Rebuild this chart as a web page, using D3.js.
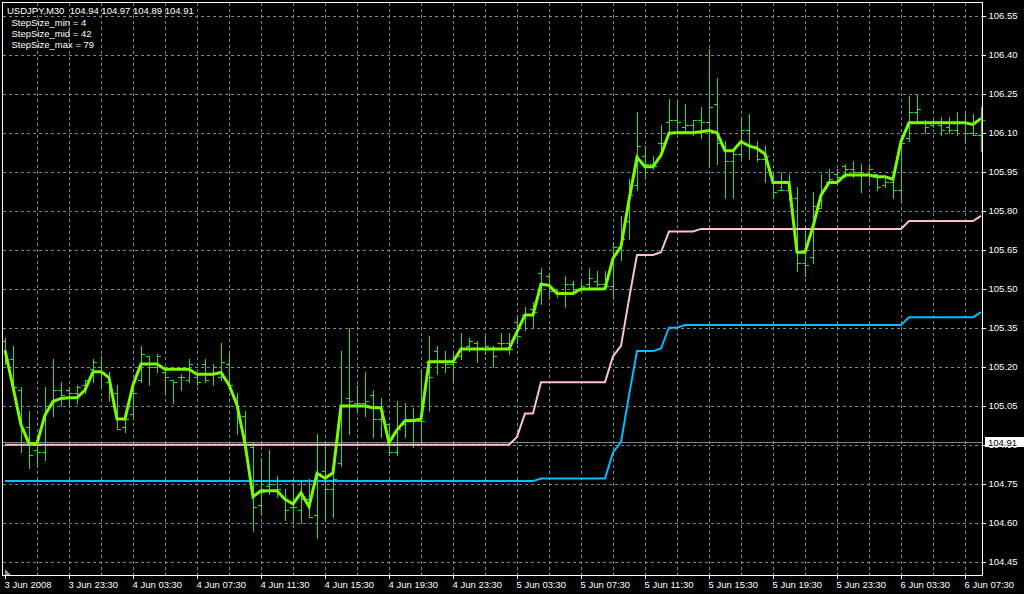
<!DOCTYPE html>
<html><head><meta charset="utf-8">
<script src="https://cdn.jsdelivr.net/npm/d3@7"></script>
<style>
html,body{margin:0;padding:0;background:#000;}
svg{display:block;}
text{font-family:"Liberation Sans",Arial,sans-serif;font-size:9.5px;}
</style></head><body>
<svg id="chart" width="1024" height="594"></svg>
<script>
// ---------- DATA ----------
const title = "USDJPY,M30  104.94 104.97 104.89 104.91";
const infoLines = ["StepSize_min = 4", "StepSize_mid = 42", "StepSize_max = 79"];
const bidPrice = 104.91;
const priceTicks = [106.55,106.40,106.25,106.10,105.95,105.80,105.65,105.50,105.35,105.20,105.05,104.90,104.75,104.60,104.45];
const timeTickIdx = [0,8,16,24,32,40,48,56,64,72,80,88,96,104,112,120];
const timeTickLabels = ["3 Jun 2008","3 Jun 23:30","4 Jun 03:30","4 Jun 07:30","4 Jun 11:30","4 Jun 15:30","4 Jun 19:30","4 Jun 23:30","5 Jun 03:30","5 Jun 07:30","5 Jun 11:30","5 Jun 15:30","5 Jun 19:30","5 Jun 23:30","6 Jun 03:30","6 Jun 07:30"];

const high = [105.31,105.28,105.12,105.03,104.91,105.12,105.23,105.14,105.12,105.13,
105.15,105.23,105.24,105.18,105.13,105.02,105.13,105.28,105.24,105.25,
105.18,105.15,105.17,105.23,105.17,105.23,105.21,105.29,105.25,105.10,
105.03,104.91,104.85,104.88,104.78,104.73,104.75,104.76,104.77,104.94,
104.91,104.84,105.26,105.35,105.13,105.18,105.11,105.08,104.98,105.07,
105.06,105.04,105.19,105.32,105.28,105.26,105.25,105.33,105.31,105.30,
105.32,105.28,105.33,105.33,105.40,105.43,105.45,105.58,105.56,105.50,
105.55,105.53,105.53,105.58,105.57,105.57,105.68,105.78,105.92,106.18,
106.05,106.01,106.13,106.23,106.22,106.21,106.15,106.20,106.42,106.31,
106.07,106.03,106.16,106.17,106.07,106.05,105.94,105.95,105.94,105.89,
105.74,105.87,105.94,105.96,105.96,105.98,105.99,105.98,105.98,105.94,
105.93,105.93,106.07,106.24,106.25,106.15,106.15,106.16,106.16,106.18,
106.17,106.17,106.20];
const low = [105.21,105.10,104.87,104.81,104.82,104.84,105.01,105.05,105.05,105.06,
105.10,105.14,105.12,105.07,104.96,104.95,105.00,105.14,105.13,105.18,
105.10,105.06,105.11,105.14,105.13,105.14,105.13,105.15,105.13,104.94,
104.87,104.57,104.63,104.71,104.70,104.61,104.60,104.60,104.62,104.54,
104.61,104.62,104.82,104.94,105.03,105.01,104.93,104.93,104.86,104.86,
104.93,104.89,104.91,105.03,105.17,105.18,105.14,105.23,105.26,105.22,
105.25,105.20,105.28,105.25,105.29,105.34,105.35,105.44,105.46,105.47,
105.43,105.48,105.49,105.50,105.51,105.50,105.46,105.61,105.69,105.88,
105.93,105.96,106.01,106.09,106.10,106.10,106.09,106.08,105.97,105.98,
105.85,105.85,106.00,106.00,105.99,105.91,105.85,105.88,105.84,105.57,
105.55,105.60,105.81,105.91,105.91,105.93,105.93,105.87,105.91,105.88,
105.89,105.85,105.83,106.07,106.14,106.10,106.12,106.09,106.10,106.09,
106.06,106.09,106.03];
const open = [105.30,105.23,105.11,104.97,104.88,104.87,105.05,105.11,105.11,105.10,
105.13,105.19,105.20,105.14,105.10,104.97,105.02,105.15,105.24,105.20,
105.18,105.15,105.16,105.15,105.16,105.21,105.17,105.16,105.21,105.08,
105.01,104.89,104.67,104.74,104.76,104.70,104.66,104.65,104.69,104.63,
104.80,104.73,104.83,105.08,105.06,105.06,105.09,105.00,104.98,104.87,
104.98,105.00,104.99,105.22,105.26,105.22,105.21,105.24,105.28,105.29,
105.27,105.27,105.29,105.29,105.37,105.40,105.42,105.56,105.55,105.49,
105.48,105.52,105.50,105.52,105.53,105.52,105.51,105.66,105.76,105.90,
106.01,105.98,106.06,106.14,106.15,106.12,106.13,106.15,106.14,106.21,
106.05,105.99,106.02,106.11,106.05,106.00,105.93,105.88,105.88,105.85,
105.60,105.62,105.81,105.91,105.94,105.97,105.96,105.95,105.94,105.94,
105.90,105.91,105.88,106.08,106.18,106.14,106.13,106.13,106.12,106.11,
106.14,106.10,106.09];
const close = [105.23,105.12,104.96,104.86,104.87,105.05,105.11,105.09,105.10,105.12,
105.15,105.22,105.18,105.10,104.96,105.00,105.10,105.25,105.20,105.24,
105.16,105.14,105.16,105.21,105.14,105.15,105.20,105.22,105.13,105.01,
104.91,104.66,104.72,104.75,104.73,104.65,104.66,104.69,104.62,104.79,
104.73,104.77,105.05,105.07,105.06,105.07,105.00,105.03,104.87,104.96,
105.00,104.99,104.99,105.16,105.22,105.21,105.22,105.27,105.30,105.27,
105.28,105.24,105.29,105.27,105.32,105.40,105.41,105.52,105.49,105.48,
105.52,105.50,105.51,105.54,105.52,105.51,105.66,105.69,105.86,106.05,
105.98,105.97,106.06,106.15,106.14,106.13,106.15,106.14,106.20,106.06,
105.99,106.02,106.11,106.05,106.00,106.01,105.87,105.88,105.85,105.60,
105.59,105.82,105.88,105.92,105.93,105.96,105.95,105.94,105.96,105.89,
105.91,105.88,106.06,106.18,106.19,106.12,106.14,106.11,106.11,106.14,
106.10,106.09,106.15];
// StepMA with StepSize_min (fast, green)
const stepMin = [105.264,105.122,104.976,104.905,104.905,105.014,105.066,105.078,105.081,105.081,
105.110,105.181,105.181,105.158,104.999,104.999,105.130,105.210,105.210,105.210,
105.190,105.190,105.190,105.190,105.171,105.171,105.171,105.178,105.130,105.053,
104.905,104.700,104.723,104.723,104.723,104.690,104.672,104.715,104.662,104.790,
104.771,104.792,105.049,105.049,105.049,105.049,105.042,105.042,104.908,104.957,
104.992,104.992,104.999,105.219,105.219,105.219,105.219,105.268,105.268,105.268,
105.268,105.268,105.268,105.268,105.334,105.399,105.399,105.517,105.513,105.482,
105.482,105.482,105.499,105.499,105.499,105.500,105.617,105.662,105.841,106.005,
105.969,105.969,106.014,106.098,106.100,106.100,106.100,106.104,106.108,106.100,
106.031,106.031,106.066,106.049,106.040,106.018,105.908,105.908,105.908,105.640,
105.640,105.739,105.860,105.908,105.908,105.937,105.937,105.937,105.937,105.931,
105.931,105.921,106.066,106.138,106.138,106.138,106.138,106.138,106.138,106.138,
106.138,106.132,106.155];
// StepSize_mid (pink)
const stepMid = [104.90,104.90,104.90,104.90,104.90,104.90,104.90,104.90,104.90,104.90,
104.90,104.90,104.90,104.90,104.90,104.90,104.90,104.90,104.90,104.90,
104.90,104.90,104.90,104.90,104.90,104.90,104.90,104.90,104.90,104.90,
104.90,104.90,104.90,104.90,104.90,104.90,104.90,104.90,104.90,104.90,
104.90,104.90,104.90,104.90,104.90,104.90,104.90,104.90,104.90,104.90,
104.90,104.90,104.90,104.90,104.90,104.90,104.90,104.90,104.90,104.90,
104.90,104.90,104.90,104.90,104.93,105.02,105.02,105.14,105.14,105.14,
105.14,105.14,105.14,105.14,105.14,105.14,105.24,105.28,105.46,105.63,
105.63,105.63,105.64,105.72,105.72,105.72,105.72,105.73,105.73,105.73,
105.73,105.73,105.73,105.73,105.73,105.73,105.73,105.73,105.73,105.73,
105.73,105.73,105.73,105.73,105.73,105.73,105.73,105.73,105.73,105.73,
105.73,105.73,105.73,105.76,105.76,105.76,105.76,105.76,105.76,105.76,
105.76,105.76,105.78];
// StepSize_max (blue)
const stepMax = [104.76,104.76,104.76,104.76,104.76,104.76,104.76,104.76,104.76,104.76,
104.76,104.76,104.76,104.76,104.76,104.76,104.76,104.76,104.76,104.76,
104.76,104.76,104.76,104.76,104.76,104.76,104.76,104.76,104.76,104.76,
104.76,104.76,104.76,104.76,104.76,104.76,104.76,104.76,104.76,104.76,
104.76,104.76,104.76,104.76,104.76,104.76,104.76,104.76,104.76,104.76,
104.76,104.76,104.76,104.76,104.76,104.76,104.76,104.76,104.76,104.76,
104.76,104.76,104.76,104.76,104.76,104.76,104.76,104.77,104.77,104.77,
104.77,104.77,104.77,104.77,104.77,104.77,104.87,104.91,105.09,105.26,
105.26,105.26,105.27,105.35,105.35,105.36,105.36,105.36,105.36,105.36,
105.36,105.36,105.36,105.36,105.36,105.36,105.36,105.36,105.36,105.36,
105.36,105.36,105.36,105.36,105.36,105.36,105.36,105.36,105.36,105.36,
105.36,105.36,105.36,105.39,105.39,105.39,105.39,105.39,105.39,105.39,
105.39,105.39,105.41];

// ---------- CHART ----------
const W = 1024, H = 594;
const plot = {left: 2.5, top: 2.5, right: 982.5, bottom: 575.5};
const n = high.length;
const x = d3.scaleLinear().domain([0, n - 1]).range([5, 981]);
const y = d3.scaleLinear().domain([104.45, 106.55]).range([561.7, 15.7]);
const px = v => Math.round(v) + 0.5;

const svg = d3.select('#chart');
svg.append('rect').attr('width', W).attr('height', H).attr('fill', '#000');

// grid
const grid = svg.append('g').attr('stroke', '#778899').attr('stroke-width', 1)
  .attr('stroke-dasharray', '3,3').attr('shape-rendering', 'crispEdges');
grid.selectAll('line.h').data(priceTicks).join('line').attr('class', 'h')
  .attr('x1', plot.left).attr('x2', plot.right)
  .attr('y1', d => px(y(d))).attr('y2', d => px(y(d)));
const vIdx = d3.range(4, n, 4);
grid.selectAll('line.v').data(vIdx).join('line').attr('class', 'v')
  .attr('y1', plot.top).attr('y2', plot.bottom)
  .attr('x1', d => px(x(d))).attr('x2', d => px(x(d)));

// bid line
svg.append('line').attr('x1', plot.left).attr('x2', plot.right)
  .attr('y1', px(y(bidPrice))).attr('y2', px(y(bidPrice)))
  .attr('stroke', '#778899').attr('shape-rendering', 'crispEdges');

// bars
const barColor = '#1ee61e';
const bars = svg.append('g').attr('stroke', barColor).attr('stroke-width', 1).attr('shape-rendering', 'crispEdges');
const idx = d3.range(n);
bars.selectAll('line.hl').data(idx).join('line').attr('class', 'hl')
  .attr('x1', i => px(x(i))).attr('x2', i => px(x(i)))
  .attr('y1', i => Math.round(y(high[i]))).attr('y2', i => Math.round(y(low[i])) + 1);
bars.selectAll('line.o').data(idx).join('line').attr('class', 'o')
  .attr('x1', i => Math.round(x(i)) - 3).attr('x2', i => Math.round(x(i)))
  .attr('y1', i => px(y(open[i]))).attr('y2', i => px(y(open[i])));
bars.selectAll('line.c').data(idx).join('line').attr('class', 'c')
  .attr('x1', i => Math.round(x(i)) + 1).attr('x2', i => Math.round(x(i)) + 4)
  .attr('y1', i => px(y(close[i]))).attr('y2', i => px(y(close[i])));

// step lines
const line = d3.line().x((d, i) => x(i)).y(d => y(d));
[[stepMid, '#ffc0cb', 2], [stepMax, '#00bfff', 2], [stepMin, '#7cfc00', 3]].forEach(([arr, col, w]) => {
  svg.append('path').datum(arr).attr('d', line).attr('fill', 'none')
    .attr('stroke', col).attr('stroke-width', w).attr('stroke-linejoin', 'miter');
});

// frame
svg.append('rect').attr('x', plot.left).attr('y', plot.top)
  .attr('width', plot.right - plot.left).attr('height', plot.bottom - plot.top)
  .attr('fill', 'none').attr('stroke', '#fff').attr('shape-rendering', 'crispEdges');

// right axis
const ay = svg.append('g').attr('transform', `translate(${plot.right},0)`)
  .call(d3.axisRight(y).tickValues(priceTicks).tickSize(3).tickPadding(3).tickFormat(d3.format('.2f')));
ay.select('.domain').remove();
ay.selectAll('line').attr('stroke', '#fff').attr('shape-rendering', 'crispEdges');
ay.selectAll('text').attr('fill', '#fff').style('font-family', '"Liberation Sans",Arial,sans-serif').style('font-size', '9.5px');

// bottom axis
const ax = svg.append('g').attr('transform', `translate(0,${plot.bottom - 0.5})`)
  .call(d3.axisBottom(x).tickValues(timeTickIdx).tickSize(4).tickFormat((d, k) => timeTickLabels[k]));
ax.select('.domain').remove();
ax.selectAll('line').attr('stroke', '#fff').attr('shape-rendering', 'crispEdges');
ax.selectAll('text').attr('fill', '#fff').attr('text-anchor', 'start')
  .attr('x', -1).attr('y', 12.5).attr('dy', 0)
  .style('font-family', '"Liberation Sans",Arial,sans-serif').style('font-size', '9.5px');

// bid label (covers the 104.90 tick label as in the original)
const by = y(bidPrice);
svg.append('rect').attr('x', 985).attr('y', Math.round(by) - 5).attr('width', 39).attr('height', 10).attr('fill', '#fff');
svg.append('text').attr('x', 988).attr('y', Math.round(by) + 3.5).attr('fill', '#000').text(d3.format('.2f')(bidPrice));

// shift marker
svg.append('path').attr('d', 'M5,569 L5,575 L11,575 Z').attr('fill', '#8a9aaa');

// info text
svg.append('text').attr('x', 7).attr('y', 14).attr('fill', '#fff').style('white-space', 'pre').text(title);
svg.selectAll('text.info').data(infoLines).join('text').attr('class', 'info')
  .attr('x', 11.5).attr('y', (d, k) => 25.5 + k * 11).attr('fill', '#fff').text(d => d);
</script>
</body></html>
